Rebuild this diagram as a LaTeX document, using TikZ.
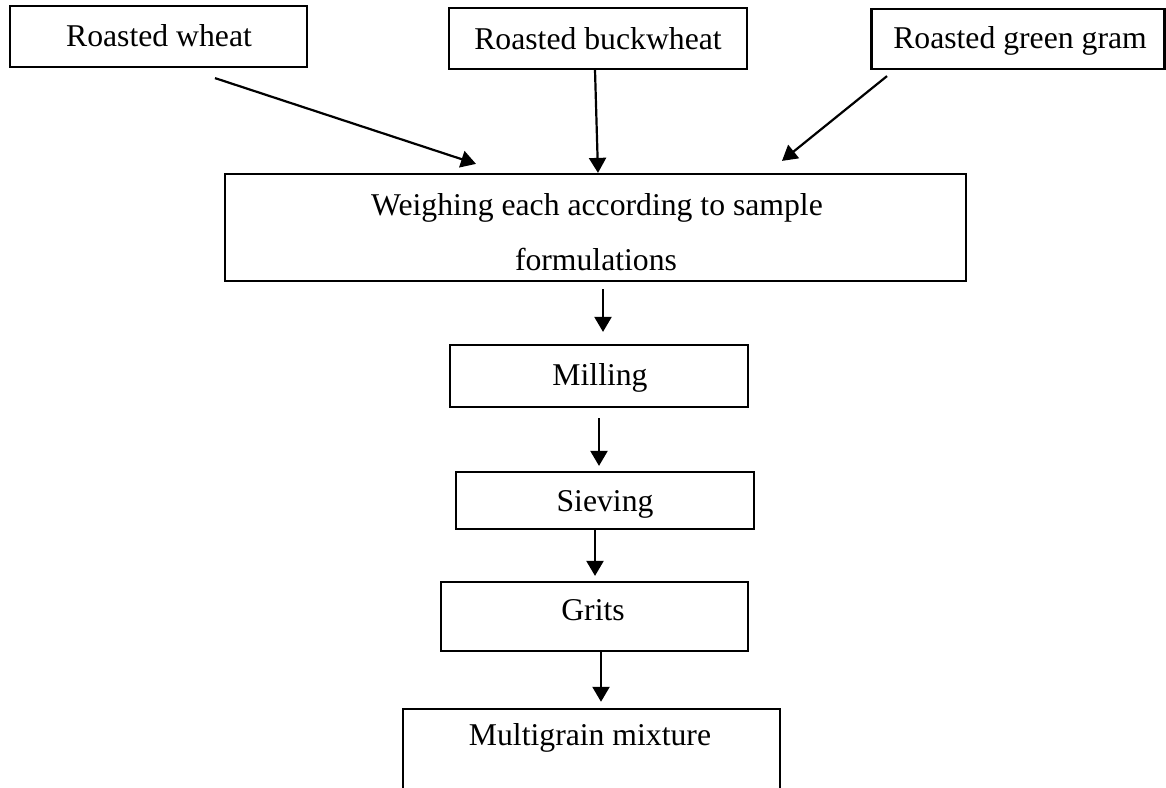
\documentclass[tikz,border=0pt]{standalone}
\usepackage{fontspec}
\setmainfont{Liberation Serif}
\usetikzlibrary{arrows.meta,calc}
\tikzset{
  box/.style={draw=black, line width=2.2pt, inner sep=0pt, fill=none},
  lbl/.style={anchor=base, inner sep=0pt, font=\fontsize{31.7}{38}\selectfont},
  flow/.style={line width=2.2pt, -{Triangle[length=15pt,width=17pt]}}
}
\begin{document}
\begin{tikzpicture}[x=1pt,y=-1pt]
\useasboundingbox (0,0) rectangle (1166,787);
% boxes
\node[box, minimum width=297pt, minimum height=61pt] (b1) at (158.5,36.5) {};
\node[box, minimum width=298pt, minimum height=61pt] (b2) at (598,38.5) {};
\node[box, minimum width=293pt, minimum height=60pt] (b3) at (1018,39) {};
\node[box, minimum width=741pt, minimum height=107pt] (w) at (595.5,227.5) {};
\node[box, minimum width=298pt, minimum height=62pt] (m) at (599,376) {};
\node[box, minimum width=298pt, minimum height=57pt] (s) at (605,500.5) {};
\node[box, minimum width=307pt, minimum height=69pt] (g) at (594.5,616.5) {};
\node[inner sep=0pt, minimum width=377pt, minimum height=80pt] (mm) at (591.5,749) {};
\draw[line width=2.2pt] (mm.south west) -- (mm.north west) -- (mm.north east) -- (mm.south east);
% texts
\node[lbl] (t1) at (159,46) {Roasted wheat};
\node[lbl] (t2) at (598,49) {Roasted buckwheat};
\node[lbl] (t3) at (1020,48) {Roasted green gram};
\node[lbl] (tw1) at (597,215) {Weighing each according to sample};
\node[lbl] (tw2) at (596,270) {formulations};
\node[lbl] (tm) at (600,385) {Milling};
\node[lbl] (ts) at (605,511) {Sieving};
\node[lbl] (tg) at (593,620) {Grits};
\node[lbl] (tmm) at (590,745) {Multigrain mixture};
% connectors
\draw[flow] ($(b1.south)+(56.5,10)$) -- ($(w.north)+(-119.5,-9)$);
\draw[flow] ($(b2.south)+(-3,0)$) -- ($(w.north)+(2.5,0)$);
\draw[flow] ($(b3.south)+(-131,6)$) -- ($(w.north)+(186.5,-12)$);
\draw[flow] ($(w.south)+(7.5,7)$) -- ($(m.north)+(4,-12)$);
\draw[flow] ($(m.south)+(0,10)$) -- ($(s.north)+(-6,-5)$);
\draw[flow] ($(s.south)+(-10,0)$) -- ($(g.north)+(0.5,-5)$);
\draw[flow] ($(g.south)+(6.5,0)$) -- ($(mm.north)+(9.5,-7)$);
\end{tikzpicture}
\end{document}
